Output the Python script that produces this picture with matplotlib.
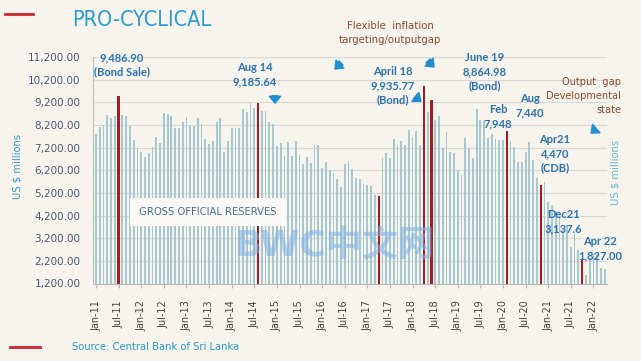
import numpy as np
import matplotlib
matplotlib.use('Agg')
import matplotlib.pyplot as plt
from matplotlib.lines import Line2D
from matplotlib.patches import FancyArrowPatch

# monthly gross official reserves, Jan-11 .. Apr-22 (US$ mn)
reserves = [
    7820, 8110, 8210, 8660, 8500, 8580, 9486.90, 8640, 8590, 8160, 7530, 7200,
    7000, 6800, 6950, 7210, 7690, 7410, 8740, 8670, 8590, 8070, 8065, 8330,
    8560, 8200, 8160, 8510, 8250, 7590, 7370, 7470, 8340, 8520, 7000, 7480,
    8080, 8080, 8080, 8890, 8760, 9170, 8970, 9185.64, 8830, 8800, 8340, 8220,
    7250, 7400, 6830, 7440, 6830, 7510, 6860, 6470, 6770, 6520, 7300, 7320,
    6290, 6580, 6200, 6100, 5800, 5450, 6480, 6600, 6250, 5850, 5820, 5600,
    5550, 5500, 5100, 5080, 6720, 6950, 6730, 7600, 7300, 7470, 7320, 7980,
    7690, 7920, 7320, 9935.77, 8764, 9280, 8420, 8600, 7200, 7900, 7000, 6960,
    6190, 6010, 7640, 7190, 6740, 8890, 8430, 8360, 7640, 7800, 7600, 7550,
    7540, 7948, 7484, 7210, 6550, 6560, 7000, 7450, 6654, 5840, 5550, 5690,
    4820, 4650, 4410, 4160, 3580, 3740, 2815, 3420, 2670, 2260, 1580, 2340,
    2520, 2490, 1870, 1827,
]
# months that are marked in red
marked = [6, 43, 75, 87, 89, 109, 118, 129]

months = ['Jan', 'Jul']
tick_pos = list(range(0, 133, 6))
tick_lab = [months[(p // 6) % 2] + '-' + str(11 + p // 12) for p in tick_pos]
yticks = list(range(1200, 11201, 1000))

BG = '#f7f4ee'
BAR = '#a6c8cf'
RED = '#a51d24'
BLUE = '#2a72b0'
BROWN = '#8b4a2b'
NARROW = dict(family='DejaVu Sans', fontstretch='condensed')

fig = plt.figure(figsize=(6.41, 3.61), dpi=100, facecolor=BG)
ax = fig.add_axes([93 / 641, 1 - 283.5 / 361, 514 / 641, (283.5 - 57) / 361])
ax.set_facecolor(BG)

x = np.arange(len(reserves))
vals = np.array(reserves)
colors = [RED if i in marked else BAR for i in x]
widths = [0.6 if i in marked else 0.48 for i in x]
ax.bar(x, vals, width=widths, color=colors, zorder=2)

ax.set_xlim(-0.8, 135.6)
ax.set_ylim(1200, 11200)
ax.set_yticks(yticks)
ax.set_yticklabels(['{:,.2f}'.format(v) for v in yticks], fontsize=7.5, color='#4a5670')
ax.set_xticks(tick_pos)
ax.set_xticklabels(tick_lab, rotation=90, fontsize=7, color='#444444')
ax.tick_params(axis='y', length=0, pad=9)
ax.tick_params(axis='x', length=3, color='#b8b8b8', pad=9)
ax.grid(axis='y', color='#d9d9d9', lw=0.8, zorder=0)
for s in ['top', 'right']:
    ax.spines[s].set_visible(False)
ax.spines['left'].set_color('#bbbbbb')
ax.spines['bottom'].set_color('#bbbbbb')


def px(xp, yp):
    return xp / 641, 1 - yp / 361


# title and decorations
fig.text(*px(72, 20), 'PRO-CYCLICAL', fontsize=15.5, color='#2b9bd6', va='center', **NARROW)
fig.add_artist(Line2D([5 / 641, 33 / 641], [1 - 14 / 361] * 2, color='#d0242b', lw=2))
fig.add_artist(Line2D([10 / 641, 40 / 641], [1 - 347 / 361] * 2, color='#d0242b', lw=2))
fig.text(*px(72, 347), 'Source: Central Bank of Sri Lanka', fontsize=8,
         color='#2a9ac8', va='center', **NARROW)

fig.text(*px(18, 166), 'US $ millions', fontsize=8, color='#3a9bc4',
         rotation=90, ha='center', va='center', **NARROW)
fig.text(*px(616, 172), 'US $ millions', fontsize=8, color='#6ab4d0',
         rotation=90, ha='center', va='center', **NARROW)

# watermark
fig.text(*px(335, 246), 'BWC中文网', family=['DejaVu Sans', 'Noto Sans CJK SC'],
         fontsize=26, fontweight='bold', color='#7fb2e6', alpha=0.55,
         ha='center', va='center', zorder=5)

# box label
fig.text(*px(208, 212), 'GROSS OFFICIAL RESERVES', fontsize=8,
         color='#4a6a9c', ha='center', va='center',
         bbox=dict(boxstyle='square,pad=0.8', fc='#fbfaf6', ec='none'), **NARROW)

# value labels
notes = [
    (122, 65, '9,486.90\n(Bond Sale)'),
    (255, 75, 'Aug 14\n9,185.64'),
    (393, 86, 'April 18\n9,935.77\n(Bond)'),
    (485, 72, 'June 19\n8,864.98\n(Bond)'),
    (498, 117, 'Feb\n7,948'),
    (530, 106, 'Aug\n7,440'),
    (555, 154, 'Apr21\n4,470\n(CDB)'),
    (563, 222, 'Dec21\n3,137.6'),
    (600, 249, 'Apr 22\n1,827.00'),
]
for xp, yp, t in notes:
    fig.text(*px(xp, yp), t, family=['Lato', 'DejaVu Sans'], fontsize=8, fontweight='bold',
             color=BLUE, ha='center', va='center', linespacing=1.35, zorder=6)

fig.text(*px(390, 33), 'Flexible  inflation\ntargeting/outputgap',
         fontsize=8.1, color=BROWN, ha='center', va='center', linespacing=1.45, **NARROW)
fig.text(*px(621, 96), 'Output  gap\nDevelopmental\nstate',
         fontsize=7.8, color=BROWN, ha='right', va='center', linespacing=1.5, **NARROW)

# little blue arrows
arrows = [((275, 93), (275, 106)), ((343, 61), (333, 71)), ((426, 59), (436, 69)),
          ((413, 95), (423, 103)), ((598, 127), (589, 135))]
for (x0, y0), (x1, y1) in arrows:
    fig.add_artist(FancyArrowPatch(
        px(x0, y0), px(x1, y1), transform=fig.transFigure,
        arrowstyle='simple,head_length=0.5,head_width=0.8,tail_width=0.4',
        mutation_scale=10, color='#1f8fd0', zorder=7))

fig.savefig('out.png', dpi=100, facecolor=BG)
